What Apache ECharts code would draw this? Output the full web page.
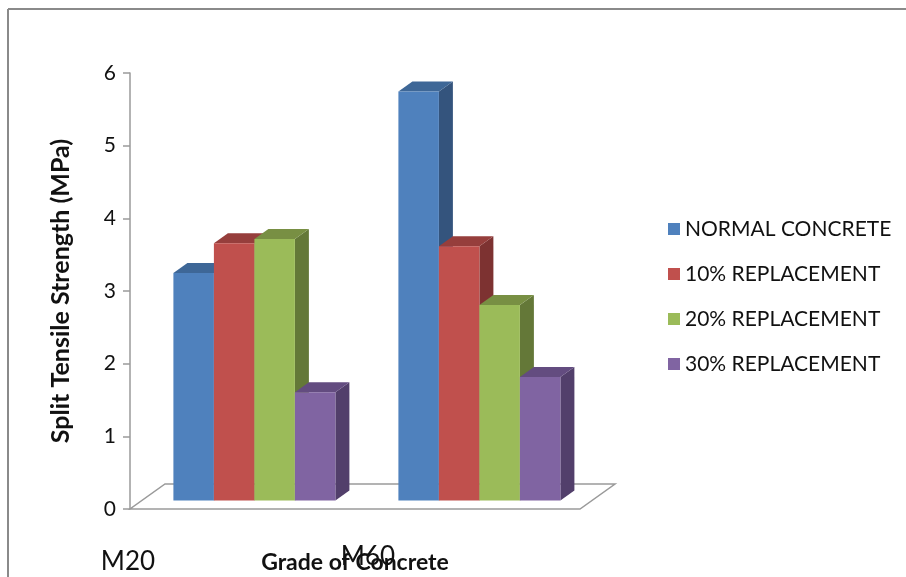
<!DOCTYPE html>
<html><head><meta charset="utf-8">
<script src="https://cdn.jsdelivr.net/npm/echarts@6/dist/echarts.min.js"></script>
<style>html,body{margin:0;padding:0;background:#fff}#c{width:906px;height:577px}</style>
</head><body><div id="c"></div>
<script>
const categories = ['M20', 'M60'];
const seriesNames = ['NORMAL CONCRETE', '10% REPLACEMENT', '20% REPLACEMENT', '30% REPLACEMENT'];
const normalConcrete = [3.13, 5.63];
const replace10 = [3.54, 3.50];
const replace20 = [3.60, 2.69];
const replace30 = [1.49, 1.70];
const yTicks = [0, 1, 2, 3, 4, 5, 6];

const seriesValues = [normalConcrete, replace10, replace20, replace30];
const frontColors = ['#4F81BD', '#C0504D', '#9BBB59', '#8064A2'];
const topColors = ['#3E6797', '#963E3C', '#788F43', '#634C80'];
const sideColors = ['#34547D', '#7D3231', '#647838', '#523F6B'];

const FLOOR_DX = 35, FLOOR_DY = 25;
const FRONT_F = 0.34;
const BAR_DX = 14, BAR_DY = 10;

const chart = echarts.init(document.getElementById('c'));

function barRender(sIdx) {
  return function (params, api) {
    const cat = api.value(0), v = api.value(1);
    const base = api.coord([cat, 0]);
    const topP = api.coord([cat, v]);
    const band = api.size([1, 0])[0];
    const w = band * 0.18;
    const offX = FLOOR_DX * FRONT_F, offY = FLOOR_DY * FRONT_F;
    const left = base[0] - 2 * w + sIdx * w + offX;
    const bottom = base[1] - offY;
    const top = topP[1] - offY;
    return {
      type: 'group',
      children: [
        { type: 'polygon', shape: { points: [[left + w, top], [left + w + BAR_DX, top - BAR_DY], [left + w + BAR_DX, bottom - BAR_DY], [left + w, bottom]] }, style: { fill: sideColors[sIdx] } },
        { type: 'polygon', shape: { points: [[left, top], [left + w, top], [left + w + BAR_DX, top - BAR_DY], [left + BAR_DX, top - BAR_DY]] }, style: { fill: topColors[sIdx] } },
        { type: 'rect', shape: { x: left, y: top, width: w, height: bottom - top }, style: { fill: frontColors[sIdx] } }
      ]
    };
  };
}

const series = [{
  type: 'custom',
  name: 'floor',
  silent: true,
  data: [[0, 0]],
  renderItem: function (params, api) {
    const cs = params.coordSys;
    const y0 = api.coord([0, 0])[1];
    const x0 = cs.x, x1 = cs.x + cs.width;
    return {
      type: 'polygon',
      shape: { points: [[x0, y0], [x1, y0], [x1 + FLOOR_DX, y0 - FLOOR_DY], [x0 + FLOOR_DX, y0 - FLOOR_DY]] },
      style: { fill: '#fff', stroke: '#9a9a9a', lineWidth: 1.5 }
    };
  },
  z: 1
}];
seriesNames.forEach(function (n, i) {
  series.push({
    type: 'custom',
    name: n,
    itemStyle: { color: frontColors[i] },
    data: categories.map(function (c, k) { return [k, seriesValues[i][k]]; }),
    renderItem: barRender(i),
    z: 2
  });
});

const labelPos = [[128, 562], [368, 557]];
const graphics = [
  { type: 'line', shape: { x1: 8, y1: 9, x2: 906, y2: 9 }, style: { stroke: '#8a8a8a', lineWidth: 2 } },
  { type: 'line', shape: { x1: 8, y1: 9, x2: 8, y2: 577 }, style: { stroke: '#8a8a8a', lineWidth: 2 } }
];
categories.forEach(function (c, k) {
  graphics.push({ type: 'text', x: labelPos[k][0], y: labelPos[k][1], z: 10, style: { text: c, font: '26px Lato', fill: '#111', align: 'center', verticalAlign: 'middle' } });
});

chart.setOption({
  animation: false,
  backgroundColor: '#fff',
  grid: { left: 130, right: 326, top: 73, bottom: 68, containLabel: false, outerBoundsMode: 'none' },
  legend: {
    orient: 'vertical', left: 663, top: 213,
    data: seriesNames.map(function (n, i) { return { name: n, icon: 'rect', itemStyle: { color: frontColors[i] } }; }),
    itemWidth: 12, itemHeight: 12, itemGap: 23,
    textStyle: { fontFamily: 'Lato', fontSize: 21, color: '#111', lineHeight: 22 }
  },
  xAxis: {
    type: 'category', data: categories,
    axisLine: { show: false }, axisTick: { show: false }, axisLabel: { show: false },
    name: 'Grade of Concrete', nameLocation: 'middle', nameGap: 42,
    nameTextStyle: { fontFamily: 'Lato', fontWeight: 'bold', fontSize: 23, color: '#111' }
  },
  yAxis: {
    type: 'value', min: yTicks[0], max: yTicks[yTicks.length - 1], interval: 1,
    axisLine: { show: true, lineStyle: { color: '#9a9a9a', width: 1.5 } },
    axisTick: { show: true, length: 7, lineStyle: { color: '#9a9a9a', width: 1.5 } },
    axisLabel: { fontFamily: 'Lato', fontSize: 21, color: '#111', margin: 14 },
    splitLine: { show: false },
    name: 'Split Tensile Strength (MPa)', nameLocation: 'middle', nameGap: 57, nameRotate: 90,
    nameTextStyle: { fontFamily: 'Lato', fontWeight: 'bold', fontSize: 25, color: '#111' }
  },
  graphic: graphics,
  series: series
});
</script></body></html>
